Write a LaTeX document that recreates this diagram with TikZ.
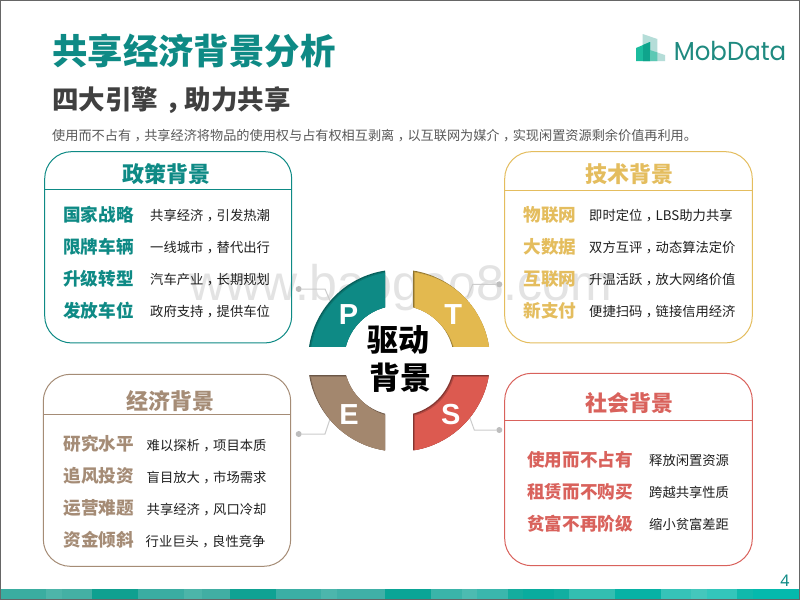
\documentclass[tikz,border=0pt]{standalone}
\usepackage{fontspec}
\setmainfont{Noto Sans CJK SC}
\newfontfamily\logofont{Poppins}
\newfontfamily\latinfont{Noto Sans}
\newfontfamily\wmfont{Liberation Sans}
\newcommand{\szf}[1]{\fontsize{#1pt}{#1pt}\selectfont}
\newcommand{\zc}{\makebox[1em][l]{\hspace{.26em}，}}
\definecolor{cP}{HTML}{0E8A85}
\definecolor{cPd}{HTML}{075F5B}
\definecolor{cT}{HTML}{E3B94F}
\definecolor{cTd}{HTML}{8F7430}
\definecolor{cE}{HTML}{A3876E}
\definecolor{cEd}{HTML}{6B5747}
\definecolor{cS}{HTML}{DC5A50}
\definecolor{cSd}{HTML}{843530}
\definecolor{tT}{HTML}{E4BD5E}
\definecolor{tE}{HTML}{A58C76}
\definecolor{tS}{HTML}{D9625C}
\definecolor{ln}{HTML}{CCCCCC}
\definecolor{dotc}{HTML}{BDBDBD}
\definecolor{lgA}{HTML}{B5DDD8}
\definecolor{lgB}{HTML}{1CBC9E}
\definecolor{lgC}{HTML}{0FA48C}
\definecolor{lgD}{HTML}{5CC8B4}
\definecolor{lgT}{HTML}{1F8A80}
\tikzset{
  panel/.style={draw=#1,line width=1pt,rounded corners=27pt,inner sep=0pt,outer sep=0pt,anchor=center},
  ptitle/.style={text=#1,font=\szf{22}\bfseries,inner sep=0pt,anchor=center,yshift=-1pt},
  plabel/.style={text=#1,font=\szf{17.6}\bfseries,inner sep=0pt,anchor=west,yshift=-1pt},
  pdesc/.style={text=black!88,font=\szf{13.3},inner sep=0pt,anchor=west,yshift=-0.5pt},
  letter/.style={text=white,font=\wmfont\szf{29}\bfseries,inner sep=0pt,anchor=center},
  centertext/.style={text=black,font=\szf{31}\bfseries,inner sep=0pt,anchor=center,yshift=-1.5pt},
  linkdot/.style={circle,fill=dotc,minimum size=6pt,inner sep=0pt,outer sep=0pt},
  link/.style={draw=ln,line width=1pt}
}
% quadrant of the ring with an inner shadow from the upper left
\newcommand{\qsec}[4]{%
  \begin{scope}
    \clip (399+#1*14,360.5+#2*14.5) rectangle (399+#1*100,360.5+#2*100);
    \begin{scope}[even odd rule]
    \clip (399,360.5) circle[radius=91pt] (399,360.5) circle[radius=55pt];
    \fill[#4] (280,240) rectangle (520,480);
    \begin{scope}[shift={(1,1)}]
      \clip (399+#1*14,360.5+#2*14.5) rectangle (399+#1*101,360.5+#2*101);
      \fill[#3!55!#4] (399,360.5) circle[radius=91pt] (399,360.5) circle[radius=55pt];
    \end{scope}
    \begin{scope}[shift={(2,2)}]
      \clip (399+#1*14,360.5+#2*14.5) rectangle (399+#1*102,360.5+#2*102);
      \fill[#3] (399,360.5) circle[radius=91pt] (399,360.5) circle[radius=55pt];
    \end{scope}
    \end{scope}
  \end{scope}}
\begin{document}
\begin{tikzpicture}[x=1pt,y=-1pt]
\useasboundingbox (0,0) rectangle (800,600);
\fill[white] (0,0) rectangle (800,600);
% watermark
\node[text=black!11,font=\wmfont\szf{50},inner sep=0pt,anchor=base] (wm) at (401,300) {www.baogao8.com};
% header
\node[text=cP,font=\szf{35.4}\bfseries,inner sep=0pt,anchor=west] (title) at (52,51) {共享经济背景分析};
\node[text=black!75,font=\szf{26.5}\bfseries,inner sep=0pt,anchor=west] (sub) at (52,100.5) {四大引擎\zc 助力共享};
\node[text=black!65,font=\szf{13.16},inner sep=0pt,anchor=west] (desc) at (52,135.5) {使用而不占有\zc 共享经济将物品的使用权与占有权相互剥离\zc 以互联网为媒介\zc 实现闲置资源剩余价值再利用。};
% logo
\fill[lgA] (642.7,34) -- (657.3,39) -- (657.3,52.5) -- (665,55) -- (665,61) -- (642.7,61) -- cycle;
\fill[lgB] (636,48) -- (650,42) -- (650,61) -- (636,61) -- cycle;
\fill[lgC] (643,45) -- (650,42) -- (650,61) -- (643,61) -- cycle;
\fill[lgD] (650,50) -- (657.3,52.5) -- (657.3,61) -- (650,61) -- cycle;
\node[text=lgT,font=\logofont\szf{26},inner sep=0pt,anchor=center,xscale=.94,transform shape] (logo) at (730,51) {MobData};
% panels
\node[panel=cP,minimum width=247pt,minimum height=191.3pt] (pP) at (168.2,247.3) {};
\node[panel=tT,minimum width=247.6pt,minimum height=191.3pt] (pT) at (628.5,247.3) {};
\node[panel=tE,minimum width=247.4pt,minimum height=192pt] (pE) at (167,470.3) {};
\node[panel=tS,minimum width=247.6pt,minimum height=192.4pt] (pS) at (628.5,469.5) {};
\coordinate (dP) at (0,189.3);
\coordinate (dT) at (0,190);
\coordinate (dE) at (0,414);
\coordinate (dS) at (0,420);
\draw[cP,line width=1pt] (pP.west |- dP) -- (pP.east |- dP);
\draw[tT,line width=1pt] (pT.west |- dT) -- (pT.east |- dT);
\draw[tE,line width=1pt] (pE.west |- dE) -- (pE.east |- dE);
\draw[tS,line width=1pt] (pS.west |- dS) -- (pS.east |- dS);
% panel P
\node[ptitle=cP] (tP) at (166.7,173.5) {政策背景};
\node[plabel=cP] (P1) at (63,214) {国家战略};
\node[plabel=cP] (P2) at (63,246) {限牌车辆};
\node[plabel=cP] (P3) at (63,278) {升级转型};
\node[plabel=cP] (P4) at (63,310) {发放车位};
\node[pdesc] (P1d) at (150,215) {共享经济\zc 引发热潮};
\node[pdesc] (P2d) at (150,247) {一线城市\zc 替代出行};
\node[pdesc] (P3d) at (150,279) {汽车产业\zc 长期规划};
\node[pdesc] (P4d) at (150,311) {政府支持\zc 提供车位};
% panel T
\node[ptitle=tT] (tTt) at (629,173.5) {技术背景};
\node[plabel=tT] (T1) at (523.5,214) {物联网};
\node[plabel=tT] (T2) at (523.5,246) {大数据};
\node[plabel=tT] (T3) at (523.5,278) {互联网};
\node[plabel=tT] (T4) at (523.5,310) {新支付};
\node[pdesc] (T1d) at (589,215) {即时定位\zc LBS助力共享};
\node[pdesc] (T2d) at (589,247) {双方互评\zc 动态算法定价};
\node[pdesc] (T3d) at (589,279) {升温活跃\zc 放大网络价值};
\node[pdesc] (T4d) at (589,311) {便捷扫码\zc 链接信用经济};
% panel E
\node[ptitle=tE] (tEt) at (170.5,400) {经济背景};
\node[plabel=tE] (E1) at (63.5,443) {研究水平};
\node[plabel=tE] (E2) at (63.5,475) {追风投资};
\node[plabel=tE] (E3) at (63.5,507) {运营难题};
\node[plabel=tE] (E4) at (63.5,539) {资金倾斜};
\node[pdesc] (E1d) at (146.5,445) {难以探析\zc 项目本质};
\node[pdesc] (E2d) at (146.5,477) {盲目放大\zc 市场需求};
\node[pdesc] (E3d) at (146.5,509) {共享经济\zc 风口冷却};
\node[pdesc] (E4d) at (145.5,541) {行业巨头\zc 良性竞争};
% panel S
\node[ptitle=tS] (tSt) at (629,402.5) {社会背景};
\node[plabel=tS] (S1) at (527,458.5) {使用而不占有};
\node[plabel=tS] (S2) at (527,490.5) {租赁而不购买};
\node[plabel=tS] (S3) at (527,522.5) {贫富不再阶级};
\node[pdesc] (S1d) at (649,460) {释放闲置资源};
\node[pdesc] (S2d) at (649,492) {跨越共享性质};
\node[pdesc] (S3d) at (649,524) {缩小贫富差距};
% connectors
\node[linkdot] (dotP) at (298.7,289) {};
\node[linkdot] (dotT) at (499.3,284.3) {};
\node[linkdot] (dotE) at (298.7,434) {};
\node[linkdot] (dotS) at (499.3,430) {};
\coordinate (eP) at (331,303);
\coordinate (eT) at (467.5,297);
\coordinate (eE) at (331,416);
\coordinate (eS) at (468.5,414);
\draw[link] (dotP) -- (325,289) -- (eP);
\draw[link] (dotT) -- (472.7,284.3) -- (eT);
\draw[link] (dotE) -- (325,434) -- (eE);
\draw[link] (dotS) -- (474.3,430) -- (eS);
% ring
\qsec{-1}{-1}{cP}{cPd}
\qsec{1}{-1}{cT}{cTd}
\qsec{-1}{1}{cE}{cEd}
\qsec{1}{1}{cS}{cSd}
\node[letter] (lP) at (348.5,315) {P};
\node[letter] (lT) at (453.3,315) {T};
\node[letter] (lE) at (349,415) {E};
\node[letter] (lS) at (450.7,415) {S};
\node[centertext] (c1) at (398.5,338) {驱动};
\node[centertext] (c2) at (400,376) {背景};
% bottom band
\begin{scope}[xscale=0.5102]
\foreach \a/\b/\c in {0/90/3AADA0,90/122/4DB5A9,122/180/44B0A4,180/270/0FA090,270/360/3AADA2,360/395/4CB5A9,395/450/41AEA3,450/540/0FA293,540/630/3BAFA5,630/660/4CB6AC,660/755/40B0A7,755/845/0AA596,845/905/3AB4A9,905/935/4CBBB1,935/995/3AB7AD,995/1025/14AD9E,1025/1085/09AC9E,1085/1115/12AFA1,1115/1205/33BEB1,1205/1295/07B2A5,1295/1355/36C3B8,1355/1385/44C7BC,1385/1445/33C6BB,1445/1475/10B9AC,1475/1568/05B9AD}{
  \definecolor{bandc}{HTML}{\c}
  \fill[bandc] (\a,589) rectangle (\b+0.5,599.3);
}
\end{scope}
\node[text=cP,font=\latinfont\szf{16},inner sep=0pt,anchor=center] (pg) at (785,581) {4};
% page frame
\draw[black!60,line width=1pt] (0.5,0.5) rectangle (799.5,599.5);
\end{tikzpicture}
\end{document}
